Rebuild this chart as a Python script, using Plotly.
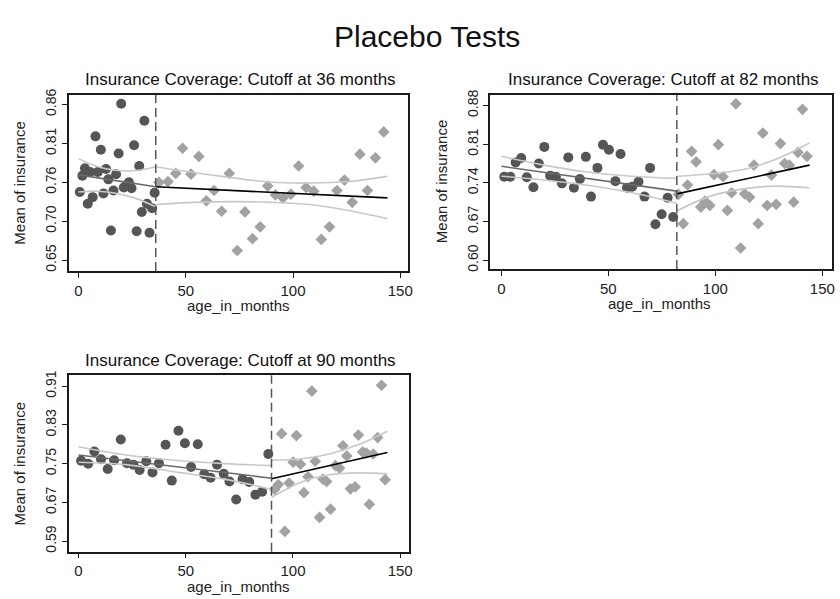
import plotly.graph_objects as go

# ---------------- data ----------------
# Panel A: cutoff at 36 months
a_cutoff = 36
a_left_x = [0.6, 1.8, 3.0, 4.3, 5.4, 6.6, 7.9, 9.0, 10.4, 11.6, 12.8, 13.9, 15.1, 16.3, 17.5,
            18.7, 19.9, 21.1, 22.3, 23.5, 24.7, 25.9, 27.1, 28.3, 29.5, 30.7, 31.9, 33.1, 34.3, 35.5]
a_left_y = [0.742, 0.764, 0.774, 0.726, 0.769, 0.735, 0.817, 0.769, 0.799, 0.740, 0.773, 0.759, 0.690, 0.744, 0.766,
            0.794, 0.861, 0.748, 0.751, 0.755, 0.747, 0.805, 0.689, 0.777, 0.715, 0.838, 0.726, 0.687, 0.720, 0.741]
a_right_x = [37.5, 41.7, 45.3, 48.5, 52.4, 56.1, 59.6, 63.2, 66.7, 70.3, 74.0, 77.6, 81.1, 84.7, 88.2,
             91.8, 95.3, 99.0, 102.6, 106.1, 109.7, 113.2, 117.0, 120.5, 124.0, 127.6, 131.2, 134.7, 138.4, 142.3]
a_right_y = [0.755, 0.756, 0.767, 0.801, 0.766, 0.790, 0.730, 0.744, 0.716, 0.767, 0.663, 0.715, 0.679, 0.695, 0.750,
             0.738, 0.734, 0.739, 0.777, 0.748, 0.743, 0.678, 0.695, 0.744, 0.758, 0.728, 0.793, 0.744, 0.788, 0.823]
a_fit_left = ([0, 36], [0.765, 0.749])
a_fit_right = ([36, 144], [0.749, 0.734])
a_ci_left_x = [0, 9, 18, 27, 36]
a_ci_left_hi = [0.787, 0.776, 0.771, 0.771, 0.776]
a_ci_left_lo = [0.742, 0.743, 0.740, 0.733, 0.722]
a_ci_right_x = [36, 54, 72, 90, 108, 126, 144]
a_ci_right_hi = [0.776, 0.768, 0.761, 0.755, 0.754, 0.756, 0.763]
a_ci_right_lo = [0.725, 0.728, 0.729, 0.728, 0.725, 0.717, 0.706]
a_yticks = [0.65, 0.7025, 0.755, 0.8075, 0.86]
a_yticklabels = ["0.65", "0.70", "0.76", "0.81", "0.86"]

# Panel B: cutoff at 82 months
b_cutoff = 82
b_left_x = [1.4, 4.2, 6.7, 9.3, 11.9, 15.0, 17.5, 20.1, 22.8, 25.5, 28.3, 31.3, 33.9, 36.7, 39.5,
            41.9, 44.9, 47.5, 50.3, 53.3, 55.7, 58.7, 61.1, 64.1, 66.9, 69.5, 72.0, 74.9, 77.7, 80.3]
b_left_y = [0.751, 0.751, 0.777, 0.785, 0.750, 0.732, 0.775, 0.805, 0.753, 0.751, 0.739, 0.786, 0.731, 0.747, 0.787,
            0.715, 0.767, 0.809, 0.800, 0.743, 0.792, 0.731, 0.733, 0.742, 0.715, 0.767, 0.665, 0.683, 0.713, 0.678]
b_right_x = [82.7, 85.0, 87.0, 88.9, 91.0, 93.2, 95.1, 97.4, 99.4, 101.4, 103.6, 105.6, 107.6, 109.6, 111.8,
             113.7, 116.0, 118.0, 120.0, 122.2, 124.2, 126.2, 128.4, 130.4, 132.4, 134.6, 136.6, 138.6, 140.7, 142.8]
b_right_y = [0.719, 0.666, 0.736, 0.797, 0.778, 0.696, 0.707, 0.699, 0.755, 0.809, 0.751, 0.690, 0.722, 0.883, 0.622,
             0.720, 0.714, 0.772, 0.666, 0.830, 0.699, 0.754, 0.701, 0.811, 0.775, 0.772, 0.705, 0.795, 0.873, 0.788]
b_fit_left = ([0, 82], [0.770, 0.725])
b_fit_right = ([82, 144], [0.720, 0.772])
b_ci_left_x = [0, 20, 41, 61, 82]
b_ci_left_hi = [0.788, 0.772, 0.759, 0.752, 0.748]
b_ci_left_lo = [0.752, 0.745, 0.735, 0.722, 0.703]
b_ci_right_x = [82, 97, 113, 128, 144]
b_ci_right_hi = [0.752, 0.756, 0.764, 0.782, 0.812]
b_ci_right_lo = [0.689, 0.715, 0.729, 0.734, 0.731]
b_yticks = [0.60, 0.67, 0.74, 0.81, 0.88]
b_yticklabels = ["0.60", "0.67", "0.74", "0.81", "0.88"]

# Panel C: cutoff at 90 months
c_cutoff = 90
c_left_x = [1.2, 4.5, 7.4, 10.5, 13.6, 16.6, 19.7, 22.6, 25.6, 28.5, 31.6, 34.5, 37.5, 40.6, 43.5,
            46.6, 49.6, 52.5, 55.6, 58.6, 61.6, 64.6, 67.7, 70.4, 73.5, 76.5, 79.6, 82.5, 85.6, 88.5]
c_left_y = [0.756, 0.750, 0.775, 0.759, 0.739, 0.757, 0.800, 0.751, 0.748, 0.737, 0.755, 0.732, 0.751, 0.789, 0.715,
            0.818, 0.792, 0.743, 0.790, 0.728, 0.721, 0.748, 0.729, 0.713, 0.676, 0.718, 0.712, 0.686, 0.692, 0.770]
c_right_x = [91.5, 93.2, 94.7, 96.2, 98.2, 100.1, 101.6, 103.5, 105.1, 107.0, 108.8, 110.4, 112.4, 114.0, 115.7,
             117.5, 119.8, 121.7, 123.3, 125.1, 126.8, 129.0, 130.5, 132.5, 134.2, 135.6, 137.4, 139.5, 141.3, 143.0]
c_right_y = [0.697, 0.707, 0.812, 0.610, 0.710, 0.753, 0.808, 0.749, 0.690, 0.723, 0.900, 0.755, 0.639, 0.718, 0.713,
             0.656, 0.746, 0.741, 0.787, 0.766, 0.698, 0.702, 0.809, 0.774, 0.772, 0.666, 0.770, 0.804, 0.912, 0.717]
c_fit_left = ([0, 90], [0.768, 0.720])
c_fit_right = ([90, 144], [0.719, 0.773])
c_ci_left_x = [0, 22, 45, 68, 90]
c_ci_left_hi = [0.785, 0.768, 0.757, 0.750, 0.746]
c_ci_left_lo = [0.753, 0.748, 0.733, 0.718, 0.697]
c_ci_right_x = [90, 104, 117, 131, 144]
c_ci_right_hi = [0.757, 0.760, 0.770, 0.790, 0.817]
c_ci_right_lo = [0.680, 0.712, 0.727, 0.731, 0.729]
c_yticks = [0.59, 0.67, 0.75, 0.83, 0.91]
c_yticklabels = ["0.59", "0.67", "0.75", "0.83", "0.91"]

x_ticks = [0, 50, 100, 150]

# ---------------- styling ----------------
W, H = 840, 599
FONT = "Liberation Sans, Arial, Helvetica, sans-serif"
C_DOT = "#555555"
C_DIAMOND = "#a2a2a2"
C_CI = "#c8c8c8"
C_FIT_LEFT = "#6a6a6a"
C_FIT_RIGHT = "#000000"
C_FRAME = "#1a1a1a"


def px_x(p):
    return p / W


def px_y(p):
    return 1 - p / H


panels = [
    dict(name="36", cutoff=a_cutoff, lx=a_left_x, ly=a_left_y, rx=a_right_x, ry=a_right_y,
         fl=a_fit_left, fr=a_fit_right, cilx=a_ci_left_x, cilh=a_ci_left_hi, cill=a_ci_left_lo,
         cirx=a_ci_right_x, cirh=a_ci_right_hi, cirl=a_ci_right_lo,
         yt=a_yticks, ytl=a_yticklabels,
         box=(69, 410, 90, 269), xr=(-4.63, 153.4), yr=(0.6354, 0.8733)),
    dict(name="82", cutoff=b_cutoff, lx=b_left_x, ly=b_left_y, rx=b_right_x, ry=b_right_y,
         fl=b_fit_left, fr=b_fit_right, cilx=b_ci_left_x, cilh=b_ci_left_hi, cill=b_ci_left_lo,
         cirx=b_ci_right_x, cirh=b_ci_right_hi, cirl=b_ci_right_lo,
         yt=b_yticks, ytl=b_yticklabels,
         box=(493, 837, 90, 267), xr=(-5.25, 154.5), yr=(0.584, 0.8996)),
    dict(name="90", cutoff=c_cutoff, lx=c_left_x, ly=c_left_y, rx=c_right_x, ry=c_right_y,
         fl=c_fit_left, fr=c_fit_right, cilx=c_ci_left_x, cilh=c_ci_left_hi, cill=c_ci_left_lo,
         cirx=c_ci_right_x, cirh=c_ci_right_hi, cirl=c_ci_right_lo,
         yt=c_yticks, ytl=c_yticklabels,
         box=(69, 411, 375, 554), xr=(-4.63, 153.9), yr=(0.5682, 0.9324)),
]

fig = go.Figure()
layout = dict(
    width=W, height=H,
    margin=dict(l=0, r=0, t=0, b=0),
    paper_bgcolor="white", plot_bgcolor="white",
    showlegend=False,
    font=dict(family=FONT, color="#222222"),
)
annotations = []
shapes = []

for i, p in enumerate(panels, start=1):
    sfx = "" if i == 1 else str(i)
    xa, ya = "x" + sfx, "y" + sfx
    x0, x1, y0, y1 = p["box"]

    layout["xaxis" + sfx] = dict(
        domain=[px_x(x0), px_x(x1)], range=list(p["xr"]), anchor=ya,
        showline=True, mirror=True, linecolor=C_FRAME, linewidth=1.5,
        ticks="outside", ticklen=5, tickwidth=1.3, tickcolor=C_FRAME,
        tickvals=x_ticks, tickfont=dict(size=15, family=FONT, color="#222222"),
        showgrid=False, zeroline=False, fixedrange=True,
    )
    layout["yaxis" + sfx] = dict(
        domain=[px_y(y1), px_y(y0)], range=list(p["yr"]), anchor=xa,
        showline=True, mirror=True, linecolor=C_FRAME, linewidth=1.5,
        ticks="outside", ticklen=5, tickwidth=1.3, tickcolor=C_FRAME,
        tickvals=p["yt"], ticktext=p["ytl"], tickangle=-90,
        tickfont=dict(size=14, family=FONT, color="#222222"),
        showgrid=False, zeroline=False, fixedrange=True,
    )

    # binned means
    fig.add_trace(go.Scatter(x=p["lx"], y=p["ly"], mode="markers", xaxis=xa, yaxis=ya,
                             marker=dict(symbol="circle", size=10, color=C_DOT, line=dict(width=0))))
    fig.add_trace(go.Scatter(x=p["rx"], y=p["ry"], mode="markers", xaxis=xa, yaxis=ya,
                             marker=dict(symbol="diamond", size=9, color=C_DIAMOND, line=dict(width=0))))

    # confidence bands
    for cx, cy in ((p["cilx"], p["cilh"]), (p["cilx"], p["cill"]),
                   (p["cirx"], p["cirh"]), (p["cirx"], p["cirl"])):
        fig.add_trace(go.Scatter(x=cx, y=cy, mode="lines", xaxis=xa, yaxis=ya,
                                 line=dict(color=C_CI, width=1.6, shape="spline", smoothing=1.0)))

    # linear fits on each side of the cutoff
    fig.add_trace(go.Scatter(x=p["fl"][0], y=p["fl"][1], mode="lines", xaxis=xa, yaxis=ya,
                             line=dict(color=C_FIT_LEFT, width=1.6)))
    fig.add_trace(go.Scatter(x=p["fr"][0], y=p["fr"][1], mode="lines", xaxis=xa, yaxis=ya,
                             line=dict(color=C_FIT_RIGHT, width=1.6)))

    # cutoff marker
    shapes.append(dict(type="line", xref=xa, yref=ya + " domain", x0=p["cutoff"], x1=p["cutoff"],
                       y0=0, y1=1, line=dict(color="#555555", width=1.5, dash="9px,5px")))

    # panel title and axis titles
    annotations.append(dict(text=f"Insurance Coverage: Cutoff at {p['name']} months",
                            xref="paper", yref="paper", x=px_x((x0 + x1) / 2 + 2), y=px_y(y0 - 15),
                            showarrow=False, xanchor="center", yanchor="middle",
                            font=dict(size=17, family=FONT, color="#111111")))
    annotations.append(dict(text="age_in_months", xref="paper", yref="paper",
                            x=px_x(x0 + 171 if i != 2 else x0 + 170), y=px_y(y1 + 35),
                            showarrow=False, xanchor="center", yanchor="middle",
                            font=dict(size=15, family=FONT, color="#222222")))
    annotations.append(dict(text="Mean of insurance", xref="paper", yref="paper",
                            x=px_x(x0 - 49), y=px_y((y0 + y1) / 2), textangle=-90,
                            showarrow=False, xanchor="center", yanchor="middle",
                            font=dict(size=15, family=FONT, color="#222222")))

annotations.append(dict(text="Placebo Tests", xref="paper", yref="paper",
                        x=px_x(430), y=px_y(31), showarrow=False,
                        xanchor="center", yanchor="middle",
                        font=dict(size=30, family=FONT, color="#111111")))

layout["annotations"] = annotations
layout["shapes"] = shapes
fig.update_layout(**layout)

fig.write_html("out.html")
